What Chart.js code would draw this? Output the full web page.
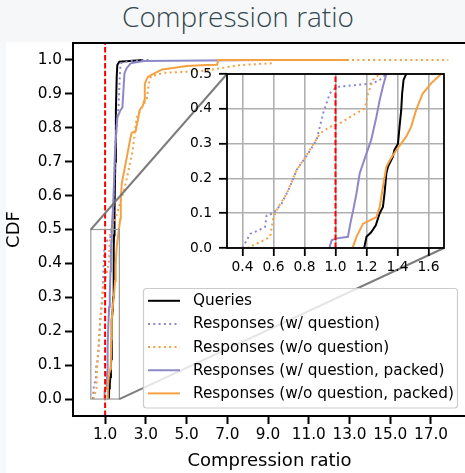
<!DOCTYPE html>
<html><head><meta charset="utf-8">
<script src="https://cdn.jsdelivr.net/npm/chart.js@4.4.1/dist/chart.umd.min.js"></script>
<style>
html,body{margin:0;padding:0;width:465px;height:473px;overflow:hidden;background:#f6f7f8;}
#title{position:absolute;left:6px;top:-2px;width:464px;height:36px;line-height:36px;text-align:center;font-family:"Open Sans",sans-serif;font-weight:300;font-size:28px;color:#34474e;white-space:nowrap;}
#main{position:absolute;left:0;top:42px;}
#inset{position:absolute;left:180px;top:60px;}
</style></head><body>
<div id="title">Compression ratio</div>
<canvas id="main" width="466" height="431"></canvas>
<canvas id="inset" width="266" height="220"></canvas>
<script>
// ---------------- data ----------------
const seriesNames = ['Queries','Responses (w/ question)','Responses (w/o question)','Responses (w/ question, packed)','Responses (w/o question, packed)'];

const queriesX = [1.185,1.20,1.23,1.26,1.285,1.306,1.317,1.328,1.338,1.37,1.38,1.403,1.413,1.424,1.43,1.439,1.456,1.47,1.50,1.53,1.57,1.60,1.70,2.87];
const queriesY = [0.0,0.032,0.045,0.065,0.10,0.118,0.16,0.214,0.233,0.262,0.281,0.30,0.348,0.396,0.444,0.483,0.50,0.55,0.70,0.85,0.95,0.985,0.995,1.0];

const respQX = [0.40,0.45,0.50,0.545,0.556,0.60,0.653,0.706,0.749,0.824,0.878,0.92,0.963,0.996,1.028,1.24,1.285,1.33,1.40,1.45,1.50,1.60,1.66,1.72,1.76,2.2,3.2];
const respQY = [0.0,0.041,0.05,0.06,0.094,0.10,0.128,0.176,0.224,0.272,0.31,0.387,0.444,0.459,0.464,0.473,0.483,0.50,0.55,0.65,0.75,0.83,0.86,0.95,0.99,0.997,1.0];

const respNQX = [0.43,0.513,0.578,0.60,0.631,0.685,0.749,0.792,0.846,0.90,0.963,1.028,1.114,1.189,1.21,1.242,1.285,1.50,1.75,1.95,2.10,2.20,2.35,2.45,2.55,2.90,3.05,3.15,3.25,3.90,5.0,5.7,6.6,7.65,8.5,9.2,9.25,17.85];
const respNQY = [0.0,0.017,0.032,0.089,0.118,0.156,0.224,0.252,0.29,0.329,0.348,0.358,0.382,0.401,0.444,0.483,0.50,0.53,0.58,0.62,0.66,0.69,0.73,0.78,0.83,0.87,0.885,0.93,0.952,0.962,0.965,0.967,0.975,0.985,0.988,0.99,1.0,1.0];

const packedQX = [0.96,0.975,1.0,1.08,1.10,1.114,1.135,1.156,1.20,1.23,1.264,1.285,1.306,1.328,1.41,1.49,1.60,1.74,1.85,1.95,2.05,2.25,2.90,8.78];
const packedQY = [0.0,0.022,0.027,0.032,0.08,0.108,0.156,0.214,0.272,0.31,0.377,0.425,0.464,0.50,0.59,0.735,0.83,0.85,0.86,0.96,0.975,0.99,0.997,1.0];

const packedNQX = [1.11,1.135,1.178,1.264,1.285,1.306,1.328,1.35,1.392,1.456,1.488,1.52,1.563,1.617,1.681,1.74,1.77,1.82,1.98,2.15,2.23,2.30,2.50,2.60,2.70,2.85,2.92,2.95,3.10,3.30,3.80,4.50,5.00,6.00,6.50,6.55,12.97];
const packedNQY = [0.0,0.032,0.07,0.089,0.118,0.176,0.233,0.252,0.281,0.32,0.348,0.396,0.444,0.473,0.50,0.53,0.59,0.637,0.686,0.74,0.765,0.785,0.79,0.82,0.853,0.865,0.88,0.93,0.95,0.957,0.972,0.978,0.982,0.985,0.986,1.0,1.0];

const mainXTicks = [1,3,5,7,9,11,13,15,17];
const mainYTicks = [0,0.1,0.2,0.3,0.4,0.5,0.6,0.7,0.8,0.9,1.0];
const insetXTicks = [0.4,0.6,0.8,1.0,1.2,1.4,1.6];
const insetYTicks = [0,0.1,0.2,0.3,0.4,0.5];
const refLineX = 1.0;
const mainXRange = [-0.576, 18.72];
const mainYRange = [-0.05, 1.05];
const insetXRange = [0.3, 1.7];
const insetYRange = [0, 0.5];

// ---------------- styles ----------------
const PURPLE = '#8e88c8', ORANGE = '#f5a142';
const seriesX = [queriesX, respQX, respNQX, packedQX, packedNQX];
const seriesY = [queriesY, respQY, respNQY, packedQY, packedNQY];
const seriesStyle = [
  {color:'#000000', dash:[]},
  {color:PURPLE, dash:[2,3.3]},
  {color:ORANGE, dash:[2,3.3]},
  {color:PURPLE, dash:[]},
  {color:ORANGE, dash:[]}
];
const FONT = 'DejaVu Sans';

function makeDatasets(yLo, yHi){
  const ds = seriesNames.map((name,i)=>({
    label:name,
    data: seriesX[i].map((x,j)=>({x:x, y:seriesY[i][j]})),
    borderColor: seriesStyle[i].color,
    borderDash: seriesStyle[i].dash,
    borderWidth: 2, pointRadius:0, pointHoverRadius:0, tension:0, fill:false,
    borderCapStyle:'butt', borderJoinStyle:'miter',
    order: 6 - i
  }));
  ds.push({label:'_ref', data:[{x:refLineX,y:yLo},{x:refLineX,y:yHi}], borderColor:'#ff0000',
    borderDash:[5.5,2.4], borderWidth:2, pointRadius:0, tension:0, fill:false, order:0});
  return ds;
}
const fmt = v => Number(v).toFixed(1);
const noPadX = (h) => s => { s.height = h; s.paddingLeft = 0; s.paddingRight = 0; s.paddingTop = 0; s.paddingBottom = 0; };
const noPadY = (w) => s => { s.width = w; s.paddingLeft = 0; s.paddingRight = 0; s.paddingTop = 0; s.paddingBottom = 0; };

const spinesPlugin = (w) => ({
  id:'spines',
  afterDraw(chart){
    const {ctx, chartArea:a} = chart;
    ctx.save(); ctx.strokeStyle='#000'; ctx.lineWidth=w;
    ctx.strokeRect(a.left, a.top, a.right-a.left, a.bottom-a.top);
    ctx.restore();
  }
});

// ---------------- inset ----------------
const insetCanvas = document.getElementById('inset');
const mainCanvas = document.getElementById('main');
const insetChart = new Chart(insetCanvas, {
  type:'line',
  data:{datasets: makeDatasets(insetYRange[0], insetYRange[1])},
  options:{
    responsive:false, animation:false, devicePixelRatio:1,
    layout:{padding:{top:14,right:2,left:0,bottom:0}},
    plugins:{legend:{display:false}, tooltip:{enabled:false}},
    scales:{
      x:{type:'linear', min:insetXRange[0], max:insetXRange[1],
        afterBuildTicks:s=>{s.ticks = insetXTicks.map(v=>({value:v}));},
        afterFit: noPadX(32),
        grid:{display:true, drawOnChartArea:true, color:'#b0b0b0', lineWidth:1.6, drawTicks:true, tickLength:8, tickWidth:1.8, tickColor:'#000'},
        border:{display:false},
        ticks:{color:'#000', font:{family:FONT,size:13.8}, padding:3, maxRotation:0, autoSkip:false, callback:fmt}
      },
      y:{type:'linear', min:insetYRange[0], max:insetYRange[1],
        afterBuildTicks:s=>{s.ticks = insetYTicks.map(v=>({value:v}));},
        afterFit: noPadY(47),
        grid:{display:true, drawOnChartArea:true, color:'#b0b0b0', lineWidth:1.6, drawTicks:true, tickLength:8, tickWidth:1.8, tickColor:'#000'},
        border:{display:false},
        ticks:{color:'#000', font:{family:FONT,size:13.8}, padding:7, autoSkip:false, callback:fmt}
      }
    }
  },
  plugins:[{
    id:'insetBg',
    beforeDraw(chart){
      const {ctx, chartArea:a} = chart;
      ctx.save(); ctx.fillStyle='#fff'; ctx.fillRect(a.left,a.top,a.right-a.left,a.bottom-a.top); ctx.restore();
    }
  }, spinesPlugin(1.8)]
});

// ---------------- main ----------------
const mainPlugins = [{
  id:'figBg',
  beforeDraw(chart){
    const ctx = chart.ctx; ctx.save(); ctx.fillStyle='#fff';
    ctx.fillRect(6,0,chart.width-6,chart.height); ctx.restore();
  }
},{
  id:'zoomMarks',
  afterDatasetsDraw(chart){
    const ctx = chart.ctx, xs = chart.scales.x, ys = chart.scales.y;
    const rx0 = xs.getPixelForValue(insetXRange[0]), rx1 = xs.getPixelForValue(insetXRange[1]);
    const ry0 = ys.getPixelForValue(insetYRange[0]), ry1 = ys.getPixelForValue(insetYRange[1]);
    const dx = insetCanvas.offsetLeft - mainCanvas.offsetLeft;
    const dy = insetCanvas.offsetTop - mainCanvas.offsetTop;
    const ixs = insetChart.scales.x, iys = insetChart.scales.y;
    const iL = ixs.getPixelForValue(insetXRange[0]) + dx, iR = ixs.getPixelForValue(insetXRange[1]) + dx;
    const iT = iys.getPixelForValue(insetYRange[1]) + dy, iB = iys.getPixelForValue(insetYRange[0]) + dy;
    ctx.save();
    ctx.strokeStyle='#9a9a9a'; ctx.lineWidth=1.2;
    ctx.strokeRect(rx0, ry1, rx1-rx0, ry0-ry1);
    ctx.strokeStyle='rgba(110,110,110,0.9)'; ctx.lineWidth=2;
    ctx.beginPath(); ctx.moveTo(rx0, ry1); ctx.lineTo(iL, iT); ctx.stroke();
    ctx.beginPath(); ctx.moveTo(rx1, ry0); ctx.lineTo(iR, iB); ctx.stroke();
    ctx.restore();
  }
}, spinesPlugin(2), {
  id:'customLegend',
  afterDraw(chart){
    const ctx = chart.ctx;
    const bx=143.5, by=246.5, bw=314, bh=119.5, r=3;
    ctx.save();
    ctx.beginPath();
    ctx.moveTo(bx+r,by); ctx.lineTo(bx+bw-r,by); ctx.quadraticCurveTo(bx+bw,by,bx+bw,by+r);
    ctx.lineTo(bx+bw,by+bh-r); ctx.quadraticCurveTo(bx+bw,by+bh,bx+bw-r,by+bh);
    ctx.lineTo(bx+r,by+bh); ctx.quadraticCurveTo(bx,by+bh,bx,by+bh-r);
    ctx.lineTo(bx,by+r); ctx.quadraticCurveTo(bx,by,bx+r,by); ctx.closePath();
    ctx.fillStyle='rgba(255,255,255,0.8)'; ctx.fill();
    ctx.strokeStyle='#cccccc'; ctx.lineWidth=1.2; ctx.stroke();
    ctx.font = '15.3px "'+FONT+'"'; ctx.textBaseline='middle'; ctx.textAlign='left';
    chart.data.datasets.slice(0, seriesNames.length).forEach((d,i)=>{
      const y = 258.8 + i*23.15;
      ctx.strokeStyle=d.borderColor; ctx.lineWidth=2; ctx.setLineDash(d.borderDash);
      ctx.beginPath(); ctx.moveTo(148,y); ctx.lineTo(180,y); ctx.stroke();
      ctx.setLineDash([]);
      ctx.fillStyle='#000'; ctx.fillText(d.label, 193, y+0.5);
    });
    ctx.restore();
  }
}];

const mainChart = new Chart(mainCanvas, {
  type:'line',
  data:{datasets: makeDatasets(mainYRange[0], mainYRange[1])},
  options:{
    responsive:false, animation:false, devicePixelRatio:1,
    layout:{padding:{top:1,right:0,left:0,bottom:0}},
    plugins:{legend:{display:false}, tooltip:{enabled:false}},
    scales:{
      x:{type:'linear', min:mainXRange[0], max:mainXRange[1],
        afterBuildTicks:s=>{s.ticks = mainXTicks.map(v=>({value:v}));},
        afterFit: noPadX(57),
        grid:{display:true, drawOnChartArea:false, drawTicks:true, tickLength:8, tickWidth:2, tickColor:'#000'},
        border:{display:false},
        ticks:{color:'#000', font:{family:FONT,size:15.3}, padding:2, maxRotation:0, autoSkip:false, callback:fmt},
        title:{display:true, text:'Compression ratio', color:'#000', font:{family:FONT,size:18}, padding:{top:0,bottom:1}}
      },
      y:{type:'linear', min:mainYRange[0], max:mainYRange[1],
        afterBuildTicks:s=>{s.ticks = mainYTicks.map(v=>({value:v}));},
        afterFit: noPadY(73),
        grid:{display:true, drawOnChartArea:false, drawTicks:true, tickLength:8, tickWidth:2, tickColor:'#000'},
        border:{display:false},
        ticks:{color:'#000', font:{family:FONT,size:15.3}, padding:3, autoSkip:false, callback:fmt},
        title:{display:true, text:'CDF', color:'#000', font:{family:FONT,size:18}, padding:{top:3.4,bottom:0}}
      }
    }
  },
  plugins: mainPlugins
});
</script></body></html>
